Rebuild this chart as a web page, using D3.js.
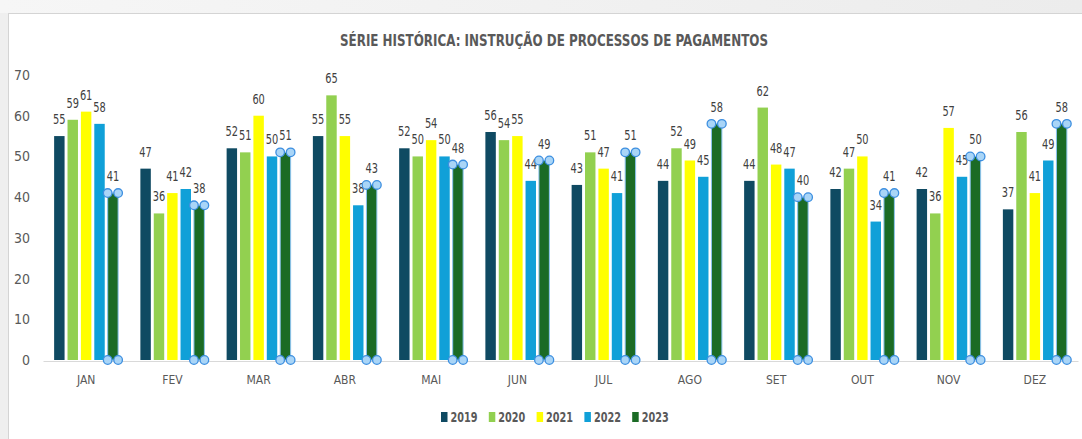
<!DOCTYPE html>
<html>
<head>
<meta charset="utf-8">
<script src="https://cdn.jsdelivr.net/npm/d3@7"></script>
<style>
  html, body { margin: 0; padding: 0; background: #efefef; }
  svg { display: block; }
  text { font-family: "Liberation Sans Narrow", "DejaVu Sans Condensed", "Open Sans", sans-serif; }
</style>
</head>
<body>
<svg id="chart" width="1082" height="439"></svg>
<script>
// Monthly counts of payment processes handled, per year
const months = ["JAN", "FEV", "MAR", "ABR", "MAI", "JUN", "JUL", "AGO", "SET", "OUT", "NOV", "DEZ"];
const years = ["2019", "2020", "2021", "2022", "2023"];
const v2019 = [55, 47, 52, 55, 52, 56, 43, 44, 44, 42, 42, 37];
const v2020 = [59, 36, 51, 65, 50, 54, 51, 52, 62, 47, 36, 56];
const v2021 = [61, 41, 60, 55, 54, 55, 47, 49, 48, 50, 57, 41];
const v2022 = [58, 42, 50, 38, 50, 44, 41, 45, 47, 34, 45, 49];
const v2023 = [41, 38, 51, 43, 48, 49, 51, 58, 40, 41, 50, 58];
const yTicks = [0, 10, 20, 30, 40, 50, 60, 70];
const colors = ["#0f4a62", "#92d050", "#ffff00", "#10a0d8", "#1b6b25"];

const seriesValues = [v2019, v2020, v2021, v2022, v2023];
const rows = months.map((m, i) => ({ month: m, values: years.map((y, k) => ({ year: y, k, value: seriesValues[k][i] })) }));

const svg = d3.select("#chart");

// frame
const topBand = svg.append("defs").append("linearGradient").attr("id", "topg").attr("x1", 0).attr("x2", 1);
topBand.append("stop").attr("offset", 0).attr("stop-color", "#f6f6f6");
topBand.append("stop").attr("offset", 1).attr("stop-color", "#ececec");
svg.append("rect").attr("x", 0).attr("y", 0).attr("width", 1082).attr("height", 13).attr("fill", "url(#topg)");
svg.append("rect").attr("x", 8.5).attr("y", 13.5).attr("width", 1080).attr("height", 430)
  .attr("fill", "#ffffff").attr("stroke", "#d4d4d4");

const y = d3.scaleLinear().domain([0, 70]).range([360, 75]);
const x0 = d3.scaleBand().domain(months).range([43, 1078]);
const groupW = 64;
const x1 = d3.scaleBand().domain(years).range([0, groupW]).paddingInner(0.22);
const groupOff = (x0.bandwidth() - groupW) / 2;

// title
svg.append("text").attr("x", 554).attr("y", 46).attr("text-anchor", "middle")
  .attr("font-size", 15.5).attr("font-weight", "bold").attr("fill", "#595959")
  .attr("textLength", 428).attr("lengthAdjust", "spacingAndGlyphs")
  .text("SÉRIE HISTÓRICA: INSTRUÇÃO DE PROCESSOS DE PAGAMENTOS");

// y axis labels
const yAxis = d3.axisLeft(y).tickValues(yTicks).tickSize(0).tickPadding(0);
const yg = svg.append("g").attr("transform", "translate(30,0)").call(yAxis);
yg.select(".domain").remove();
yg.selectAll("text").attr("font-size", 14).attr("fill", "#595959")
  .style("font-family", "\"Liberation Sans Narrow\", \"DejaVu Sans Condensed\", sans-serif");

// x axis
const xAxis = d3.axisBottom(x0).tickSize(0).tickPadding(14);
const xg = svg.append("g").attr("transform", "translate(0,361)").call(xAxis);
xg.select(".domain").attr("stroke", "#d9d9d9").attr("stroke-width", 1.2);
xg.selectAll("text").attr("font-size", 12).attr("fill", "#595959")
  .style("font-family", "\"Liberation Sans Narrow\", \"DejaVu Sans Condensed\", sans-serif");

// bars
const groups = svg.append("g").selectAll("g").data(rows).join("g")
  .attr("transform", d => `translate(${x0(d.month) + groupOff},0)`);

groups.selectAll("rect").data(d => d.values).join("rect")
  .attr("x", d => x1(d.year))
  .attr("y", d => y(d.value))
  .attr("width", x1.bandwidth())
  .attr("height", d => y(0) - y(d.value))
  .attr("fill", d => colors[d.k])
  .attr("stroke", d => d.k === 4 ? "#8cc4f0" : "none")
  .attr("stroke-width", 1);

// value labels
groups.selectAll("text.val").data(d => d.values).join("text")
  .attr("class", "val")
  .attr("x", d => x1(d.year) + x1.bandwidth() / 2)
  .attr("y", d => y(d.value) - 12)
  .attr("text-anchor", "middle")
  .attr("font-size", 13.5).attr("fill", "#404040")
  .attr("textLength", 12.5).attr("lengthAdjust", "spacingAndGlyphs")
  .text(d => d.value);

// selection handles on the 2023 series
const handles = [];
rows.forEach(r => {
  const d = r.values[4];
  const xl = x0(r.month) + groupOff + x1(d.year);
  const xr = xl + x1.bandwidth();
  [[xl, y(d.value)], [xr, y(d.value)], [xl, y(0)], [xr, y(0)]].forEach(p => handles.push(p));
});
svg.append("g").selectAll("circle").data(handles).join("circle")
  .attr("cx", d => d[0]).attr("cy", d => d[1]).attr("r", 4.3)
  .attr("fill", "#a9d5f7").attr("stroke", "#3d8fe0").attr("stroke-width", 1.3);

// legend
const legend = svg.append("g").selectAll("g").data(years).join("g")
  .attr("transform", (d, i) => `translate(${441 + i * 47.8},0)`);
legend.append("rect").attr("x", 0).attr("y", 412).attr("width", 6.5).attr("height", 10)
  .attr("fill", (d, i) => colors[i]);
legend.append("text").attr("x", 9.5).attr("y", 422).attr("font-size", 14.5)
  .attr("font-weight", "bold").attr("fill", "#595959")
  .attr("textLength", 27).attr("lengthAdjust", "spacingAndGlyphs")
  .text(d => d);
</script>
</body>
</html>
